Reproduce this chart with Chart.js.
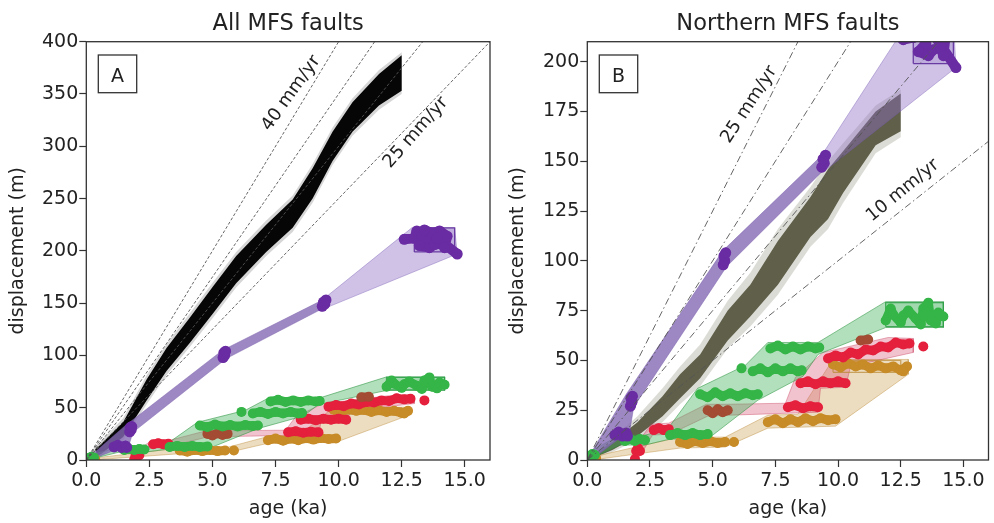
<!DOCTYPE html>
<html><head><meta charset="utf-8">
<script src="https://cdn.jsdelivr.net/npm/chart.js@4.4.1/dist/chart.umd.min.js"></script>
<style>
html,body{margin:0;padding:0;background:#fff;}
#wrap{position:relative;width:994px;height:523px;overflow:hidden;}
.c{position:absolute;top:0;width:497px;height:523px;}
</style></head><body>
<div id="wrap">
<div class="c" style="left:0"><canvas id="cA" width="497" height="523"></canvas></div>
<div class="c" style="left:497px"><canvas id="cB" width="497" height="523"></canvas></div>
</div>
<script>
// ---------------- data ----------------
const ageTicks = [0, 2.5, 5, 7.5, 10, 12.5, 15];
const allDispTicks = [0, 50, 100, 150, 200, 250, 300, 350, 400];
const northDispTicks = [0, 25, 50, 75, 100, 125, 150, 175, 200];
const allRates = [40, 35, 30, 25];      // mm/yr reference lines, panel A
const northRates = [25, 20, 15, 10];    // mm/yr reference lines, panel B

// summed displacement envelope, all MFS faults (age ka, displacement m)
const allUpper = [[0.35,10],[0.54,14],[1.46,36],[2.39,77],[3.18,107],[4.1,136],[5.02,166],[5.94,195],[7.13,225],[8.18,249],[8.97,279],[9.76,314],[10.55,342],[11.6,369],[12.5,387]];
const allLower = [[12.5,353],[11.6,339],[10.55,314],[9.76,286],[8.97,250],[8.18,222],[7.13,199],[5.94,169],[5.02,140],[4.1,112],[3.18,85],[2.39,57],[1.46,22],[0.6,6],[0.45,4]];
const allHaloUpper = [[0.3,12],[0.54,17],[1.46,40],[2.39,81],[3.18,111],[4.1,140],[5.02,170],[5.94,199],[7.13,229],[8.18,253],[8.97,283],[9.76,318],[10.55,346],[11.6,373],[12.5,390]];
const allHaloLower = [[12.5,350],[11.6,335],[10.55,310],[9.76,282],[8.97,246],[8.18,218],[7.13,195],[5.94,165],[5.02,136],[4.1,108],[3.18,81],[2.39,53],[1.46,19],[0.6,4],[0.45,2]];

// summed displacement envelope, northern MFS faults
const northUpper = [[0,1],[1,9],[2,19],[3,32],[3.7,43],[4.5,53],[5.6,75],[6.5,88],[7.6,110],[8.9,132],[9.6,146],[10.2,155],[11.5,175],[12.5,184]];
const northLower = [[12.5,165],[11.5,158],[10.2,134],[9.6,121],[8.9,112],[7.6,88],[6.5,72],[5.6,60],[4.5,41],[3.7,31],[3,22],[2,12],[1,5],[0.05,0]];
const northHaloUpper = [[0,2],[1,11],[2,22],[3,36],[3.7,47],[4.5,58],[5.6,80],[6.5,94],[7.6,116],[8.9,137],[9.6,150],[10.2,159],[11.5,178],[12.5,186]];
const northHaloLower = [[12.5,162],[11.5,154],[10.2,129],[9.6,116],[8.9,107],[7.6,83],[6.5,67],[5.6,56],[4.5,37],[3.7,28],[3,19],[2,10],[1,4],[0.1,0]];

// purple fault
const purpleCoreUpper = [[0.05,1.5],[1.55,33],[5.4,105],[9.4,153.5]];
const purpleCoreLower = [[9.5,146.5],[5.55,97],[1.85,26.5],[1.65,11],[1.2,10],[0.2,0.5]];
const purpleFanUpper = [[9.35,153],[12.9,222],[14.6,222]];
const purpleFanLower = [[14.7,197],[9.55,146]];
const purpleBox = [[13.0,199],[13.0,222],[14.6,222],[14.6,199],[13.0,199]];
const purpleClusters = [
  [[1.1,12.5],[1.25,14],[1.4,12],[1.55,13.5],[1.6,12]],
  [[1.72,27],[1.78,29],[1.74,31],[1.8,32]],
  [[5.42,98],[5.48,100],[5.45,102.5],[5.52,104]],
  [[9.35,147],[9.45,149],[9.4,151],[9.5,153]],
  [[12.6,211],[13.0,212],[13.1,219],[13.3,214],[13.5,209],[13.2,205],[13.6,203],[13.8,206],[14.1,207],[14.2,203],[14.3,214],[14.0,219],[13.7,217],[13.4,220],[13.9,212],[14.7,197]]
];

// green fault
const greenBandUpper = [[0,3.5],[1.3,12.5],[2.3,12.5],[3.2,15.5],[4.4,36],[6.3,47.5],[7.2,59],[9.2,59],[11.9,79.5],[14.2,79.5]];
const greenBandLower = [[14.2,66.5],[11.9,66.5],[9.2,53],[8.6,42],[6.8,30],[4.8,10.5],[3.3,10.5],[2.3,7.5],[1.3,7.5],[0.1,0.5]];
const greenBox = [[11.9,67],[11.9,79],[14.2,79],[14.2,67],[11.9,67]];
const greenClusters = [
  [[0.08,2],[0.2,3],[0.3,2.5]],
  [[1.5,9.5],[1.7,10.5],[1.9,9.5],[2.1,10.5],[2.3,10]],
  [[3.3,12.5],[3.6,13.5],[3.9,12.5],[4.2,13.5],[4.5,12.5],[4.8,13]],
  [[4.5,33],[4.8,31.5],[5.1,34],[5.4,32],[5.7,33.5],[6.0,32],[6.3,33.5],[6.6,32.5],[6.8,33]],
  [[6.15,46]],
  [[6.6,44.5],[6.9,46],[7.2,44],[7.5,46],[7.8,44.5],[8.1,46],[8.4,44.5],[8.55,45]],
  [[7.3,56],[7.6,57.5],[7.9,55.5],[8.2,57],[8.5,55.5],[8.8,57],[9.1,56],[9.25,56.5]],
  [[11.9,70],[12.1,76],[12.2,73],[12.5,69],[12.6,72.5],[12.8,75],[13.1,71],[13.3,68],[13.4,76],[13.6,79],[13.7,70],[13.9,68.5],[14.0,74],[14.2,72]]
];

// red fault
const redBandUpper = [[1.9,7],[2.55,18],[3.25,18.5],[4.75,28],[5.7,28],[7.9,28.5],[8.3,41.5],[9.4,54],[12.0,61.5],[13.0,61]];
const redBandLower = [[13.0,54],[10.5,47],[10.3,36.5],[9.3,36],[9.2,24],[5.7,22.5],[4.8,22],[3.3,13],[2.6,12.5],[2.1,2],[1.9,0]];
const redClusters = [
  [[1.9,0.5]],
  [[1.95,4.5],[2.02,6],[2.1,4.5]],
  [[2.65,15],[2.85,16],[3.05,15],[3.25,15.5]],
  [[8.0,26.5],[8.3,27.5],[8.6,26],[8.9,27],[9.2,26.5]],
  [[8.5,38.5],[8.8,39.5],[9.1,38],[9.4,39.5],[9.7,38.5],[10.0,39.5],[10.3,38.5]],
  [[9.6,51],[9.9,52.5],[10.2,51.5],[10.5,54],[10.8,53],[11.1,55.5],[11.4,55],[11.7,57],[12.0,56.5],[12.3,59],[12.6,58],[12.85,58.5]],
  [[13.4,57]]
];
const brownClusters = [
  [[4.8,25],[5.0,23.5],[5.2,25.5],[5.4,24],[5.6,25]],
  [[10.9,60],[11.2,60.5]]
];

// gold fault
const goldBandUpper = [[0,1],[3.7,11.5],[5.5,11.5],[7.2,22.5],[8.4,23],[9.8,50.5],[12.8,50.5]];
const goldBandLower = [[12.8,43],[9.9,17],[7.2,16],[5.5,6.5],[3.7,6],[0.2,0]];
const goldBox = [[9.8,44],[9.8,50],[12.5,50],[12.5,44],[9.8,44]];
const goldClusters = [
  [[0.1,0.5],[0.35,1]],
  [[3.7,9],[4.0,8],[4.3,9.5],[4.6,8.5],[4.9,9.5],[5.2,8.5],[5.5,9]],
  [[5.85,9]],
  [[7.2,19],[7.5,20.5],[7.8,18.5],[8.1,20.5],[8.4,19],[8.7,21],[9.0,19.5],[9.3,21],[9.6,20],[9.9,20.5]],
  [[9.8,48],[10.1,46.5],[10.4,48.5],[10.7,47],[11.0,48],[11.3,46],[11.6,47.5],[11.9,46],[12.2,47],[12.5,45],[12.75,47],[12.6,44.5]]
];

// ---------------- helpers ----------------
const FONT = "'DejaVu Sans', 'Liberation Sans', sans-serif";
const TXT = '#222';
function pts(a){ return a.map(p => ({x:p[0], y:p[1]})); }
function shape(a, b, fillC, lineC, lw){
  return {data: pts(a.concat(b)), fill: 'shape', backgroundColor: fillC,
    borderColor: lineC || 'rgba(0,0,0,0)', borderWidth: lw || 1, pointRadius: 0};
}
function outline(a, lineC, fillC){
  return {data: pts(a), fill: 'shape', backgroundColor: fillC || 'rgba(0,0,0,0)',
    borderColor: lineC, borderWidth: 1.3, pointRadius: 0};
}
function clusters(list, color, w, r){
  return list.map(c => ({data: pts(c), showLine: true, fill: false, borderColor: color,
    borderWidth: w || 9, borderCapStyle: 'round', borderJoinStyle: 'round',
    pointRadius: r || 5, pointBorderWidth: 0, pointBackgroundColor: color, backgroundColor: color}));
}
function rateLine(rate, dash){
  return {data: [{x:0, y:0}, {x:20, y:rate*20}], fill: false, borderColor: '#555',
    borderWidth: 0.9, borderDash: dash, pointRadius: 0};
}
function faultLayers(){
  return [].concat(
    [shape(goldBandUpper, goldBandLower, 'rgba(208,168,98,0.40)', 'rgba(190,145,65,0.45)', 1)],
    [shape(redBandUpper, redBandLower, 'rgba(212,72,108,0.33)', 'rgba(200,60,90,0.40)', 1)],
    [shape(greenBandUpper, greenBandLower, 'rgba(62,176,88,0.40)', 'rgba(45,150,65,0.55)', 1)],
    [shape(purpleFanUpper, purpleFanLower, 'rgba(140,110,196,0.42)', 'rgba(120,90,180,0.4)', 1)],
    [shape(purpleCoreUpper, purpleCoreLower, 'rgba(132,106,180,0.80)', 'rgba(120,90,170,0.45)', 1)],
    [outline(goldBox, 'rgba(185,135,50,0.7)')],
    [outline(greenBox, 'rgba(45,160,70,0.85)', 'rgba(62,176,88,0.15)')],
    [outline(purpleBox, 'rgba(95,45,155,0.9)', 'rgba(140,110,196,0.25)')],
    clusters(goldClusters, '#c78b27'),
    clusters(redClusters, '#e4203d'),
    clusters(brownClusters, '#a34b33'),
    clusters(greenClusters, '#35b547'),
    clusters(purpleClusters, '#6a2ca2', 10, 5.5)
  );
}

const textPlugin = {
  id: 'panelText',
  afterDatasetsDraw(chart, args, o){
    const ctx = chart.ctx, a = chart.chartArea, xs = chart.scales.x, ys = chart.scales.y;
    ctx.save();
    ctx.strokeStyle = '#333'; ctx.lineWidth = 1.3;
    ctx.strokeRect(a.left, a.top, a.right - a.left, a.bottom - a.top);
    const bx = a.left + 12, by = a.top + 13.3;
    ctx.fillStyle = '#fff';
    ctx.fillRect(bx, by, 38.4, 37.7);
    ctx.strokeRect(bx, by, 38.4, 37.7);
    ctx.fillStyle = TXT; ctx.textAlign = 'center'; ctx.textBaseline = 'alphabetic';
    ctx.font = '19px ' + FONT;
    ctx.fillText(o.letter, bx + 19.2, by + 26.6);
    ctx.font = '18px ' + FONT; ctx.textBaseline = 'middle';
    for (const r of o.rates){
      ctx.save();
      ctx.translate(xs.getPixelForValue(r.at[0]), ys.getPixelForValue(r.at[1]));
      ctx.rotate(r.angle * Math.PI / 180);
      ctx.fillText(r.text, 0, 0);
      ctx.restore();
    }
    ctx.restore();
  },
  afterDraw(chart, args, o){
    const ctx = chart.ctx, a = chart.chartArea;
    ctx.save();
    ctx.fillStyle = TXT; ctx.textAlign = 'center'; ctx.textBaseline = 'alphabetic';
    ctx.font = '22.5px ' + FONT;
    ctx.fillText(o.title, (a.left + a.right) / 2, 30.3);
    ctx.font = '19px ' + FONT;
    ctx.fillText('age (ka)', (a.left + a.right) / 2, 513.5);
    ctx.translate(o.yTitleX, (a.top + a.bottom) / 2);
    ctx.rotate(-Math.PI / 2);
    ctx.fillText('displacement (m)', 0, 0);
    ctx.restore();
  }
};

function makeChart(id, cfg){
  const sets = [].concat(cfg.total, faultLayers(), cfg.rates);
  sets.forEach((d, i) => { d.order = sets.length - i; d.clip = 0; d.tension = 0; });
  return new Chart(document.getElementById(id), {
    type: 'line',
    data: {datasets: sets},
    plugins: [textPlugin],
    options: {
      responsive: false, animation: false, devicePixelRatio: 1, events: [],
      layout: {padding: {top: 41.7, left: 0, right: cfg.padRight, bottom: 0}},
      plugins: {legend: {display: false}, tooltip: {enabled: false},
        panelText: {title: cfg.title, letter: cfg.letter, yTitleX: cfg.yTitleX, rates: cfg.rateLabels}},
      scales: {
        x: {type: 'linear', min: 0, max: 16,
          afterFit: s => { s.height = 63; },
          afterBuildTicks: s => { s.ticks = ageTicks.map(v => ({value: v})); },
          grid: {display: true, drawOnChartArea: false, drawTicks: true, tickLength: 7, tickColor: '#333', tickWidth: 1.2},
          border: {display: false},
          ticks: {font: {family: FONT, size: 19}, color: TXT, padding: 3, maxRotation: 0, autoSkip: false,
            callback: v => Number(v).toFixed(1)}},
        y: {type: 'linear', min: 0, max: cfg.yMax,
          afterFit: s => { s.width = cfg.yAxisW; },
          afterBuildTicks: s => { s.ticks = cfg.yTicks.map(v => ({value: v})); },
          grid: {display: true, drawOnChartArea: false, drawTicks: true, tickLength: 7, tickColor: '#333', tickWidth: 1.2},
          border: {display: false},
          ticks: {font: {family: FONT, size: 19}, color: TXT, padding: 1, autoSkip: false,
            callback: v => String(v)}}
      }
    }
  });
}

makeChart('cA', {
  title: 'All MFS faults', letter: 'A', yTitleX: 22.7, yMax: 400, yTicks: allDispTicks,
  yAxisW: 86.3, padRight: 7,
  total: [shape(allHaloUpper, allHaloLower, 'rgba(0,0,0,0.16)'), shape(allUpper, allLower, '#060606')],
  rates: [rateLine(allRates[0], [3,2]), rateLine(allRates[1], [3,2]), rateLine(allRates[2], [3,2]), rateLine(allRates[3], [3,2])],
  rateLabels: [{text: allRates[0] + ' mm/yr', at: [8.12, 350.6], angle: -54.5},
               {text: allRates[3] + ' mm/yr', at: [13.06, 313.1], angle: -48.7}]
});
makeChart('cB', {
  title: 'Northern MFS faults', letter: 'B', yTitleX: 26, yMax: 210, yTicks: northDispTicks,
  yAxisW: 90.3, padRight: 2.3,
  total: [shape(northHaloUpper, northHaloLower, 'rgba(96,96,74,0.22)'), shape(northUpper, northLower, 'rgb(96,96,74)')],
  rates: [rateLine(northRates[0], [7,3,1.5,3]), rateLine(northRates[1], [7,3,1.5,3]), rateLine(northRates[2], [7,3,1.5,3]), rateLine(northRates[3], [7,3,1.5,3])],
  rateLabels: [{text: northRates[0] + ' mm/yr', at: [6.46, 178.4], angle: -57},
               {text: northRates[3] + ' mm/yr', at: [12.58, 135.3], angle: -39.4}]
});
</script>
</body></html>
